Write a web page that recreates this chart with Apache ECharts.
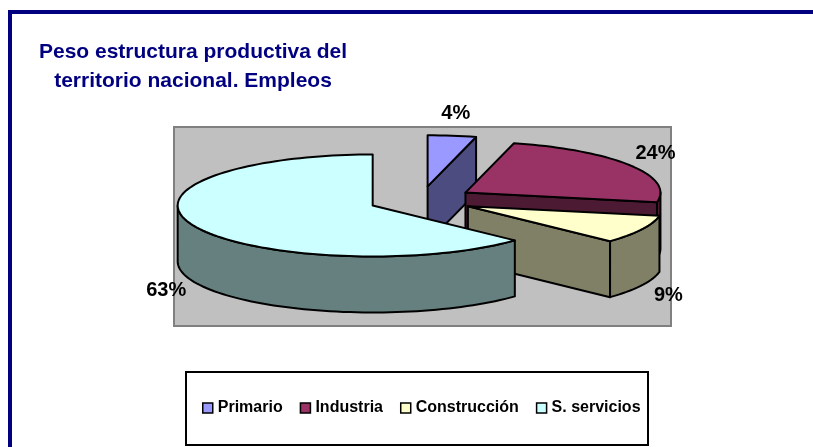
<!DOCTYPE html>
<html>
<head>
<meta charset="utf-8">
<script src="https://cdn.jsdelivr.net/npm/echarts@6/dist/echarts.min.js"></script>
<style>
  html, body { margin: 0; padding: 0; background: #fff; }
  #chart { width: 813px; height: 447px; }
</style>
</head>
<body>
<div id="chart"></div>
<script>
const categorias = ['Primario', 'Industria', 'Construcción', 'S. servicios']
const valores = [4, 24, 9, 63]

const coloresCara = ['#9999FF', '#993366', '#FFFFCC', '#CCFFFF']
const coloresLado = ['#4C4C80', '#4D1A33', '#808066', '#668080']

const total = valores.reduce((s, v) => s + v, 0)
const inicio = []
let acum = 0
valores.forEach(v => {
  inicio.push(acum / total * 360)
  acum += v
})

// fake 3d pie, angles clockwise from 12 o'clock
const pie = { cx: 421, cy: 200, rx: 195, ry: 51, depth: 56, explode: 0.27 }
const rad = d => d * Math.PI / 180
const FONT = '"Liberation Sans", Arial, sans-serif'

function renderSlice(i, api) {
  const v = api.value(0)
  const a0 = inicio[i]
  const a1 = a0 + v / total * 360
  const mid = (a0 + a1) / 2
  const ox = pie.cx + pie.explode * pie.rx * Math.sin(rad(mid))
  const oy = pie.cy - pie.explode * pie.ry * Math.cos(rad(mid))
  const pt = (ang, dz) => [ox + pie.rx * Math.sin(rad(ang)), oy - pie.ry * Math.cos(rad(ang)) + (dz || 0)]
  const arc = (from, to, dz) => {
    const out = []
    const n = Math.max(2, Math.ceil(Math.abs(to - from) / 2))
    for (let k = 0; k <= n; k++) out.push(pt(from + (to - from) * k / n, dz))
    return out
  }
  const d = pie.depth
  const lineStyle = { stroke: '#000', lineWidth: 2, lineJoin: 'round' }
  const children = []

  // radial side faces that face the viewer
  const cara = (ang) => {
    const p = pt(ang)
    children.push({
      type: 'polygon',
      shape: { points: [[ox, oy], p, [p[0], p[1] + d], [ox, oy + d]] },
      style: Object.assign({ fill: coloresLado[i] }, lineStyle)
    })
  }
  if (Math.cos(rad(a0 - 90)) < 0) cara(a0)
  if (Math.cos(rad(a1 + 90)) < 0) cara(a1)

  // outer wall, front half only
  const lo = Math.max(a0, 90)
  const hi = Math.min(a1, 270)
  if (lo < hi) {
    const pts = arc(lo, hi, 0).concat(arc(hi, lo, d))
    children.push({
      type: 'polygon',
      shape: { points: pts },
      style: Object.assign({ fill: coloresLado[i] }, lineStyle)
    })
  }

  // top face
  children.push({
    type: 'polygon',
    shape: { points: [[ox, oy]].concat(arc(a0, a1, 0)) },
    style: Object.assign({ fill: coloresCara[i] }, lineStyle)
  })

  // percentage label outside the rim
  const s = Math.sin(rad(mid))
  const c = Math.cos(rad(mid))
  const rim = pt(mid, c < 0 ? d : 0)
  children.push({
    type: 'text',
    z2: 10,
    style: {
      text: Math.round(v / total * 100) + '%',
      x: rim[0] + s * 30,
      y: rim[1] - c * 22,
      align: 'center',
      verticalAlign: 'middle',
      font: 'bold 20px ' + FONT,
      fill: '#000'
    }
  })

  return { type: 'group', children: children }
}

const chart = echarts.init(document.getElementById('chart'))

const option = {
  backgroundColor: '#fff',
  animation: false,
  title: {
    text: 'Peso estructura productiva del\nterritorio nacional. Empleos',
    left: 193,
    top: 38,
    padding: 0,
    textAlign: 'center',
    textStyle: {
      fontFamily: FONT,
      fontWeight: 'bold',
      fontSize: 21,
      lineHeight: 29,
      color: '#000080'
    }
  },
  legend: {
    data: categorias,
    left: 202,
    top: 400,
    padding: 0,
    itemWidth: 10,
    itemHeight: 10,
    itemGap: 17,
    icon: 'rect',
    selectedMode: false,
    itemStyle: { borderColor: '#000', borderWidth: 1.5 },
    textStyle: {
      fontFamily: FONT,
      fontWeight: 'bold',
      fontSize: 16,
      color: '#000'
    }
  },
  graphic: [
    {
      type: 'rect',
      shape: { x: 10, y: 12, width: 900, height: 500 },
      style: { fill: 'none', stroke: '#000080', lineWidth: 4 }
    },
    {
      type: 'rect',
      shape: { x: 174, y: 127, width: 497, height: 199 },
      style: { fill: '#C0C0C0', stroke: '#808080', lineWidth: 2 }
    },
    {
      type: 'rect',
      shape: { x: 186, y: 372, width: 462, height: 73 },
      style: { fill: '#fff', stroke: '#000', lineWidth: 2 }
    }
  ],
  series: categorias.map((nombre, i) => ({
    type: 'custom',
    name: nombre,
    coordinateSystem: 'none',
    itemStyle: { color: coloresCara[i] },
    data: [{ value: valores[i], name: nombre }],
    renderItem: (params, api) => renderSlice(i, api)
  }))
}

chart.setOption(option)
</script>
</body>
</html>
